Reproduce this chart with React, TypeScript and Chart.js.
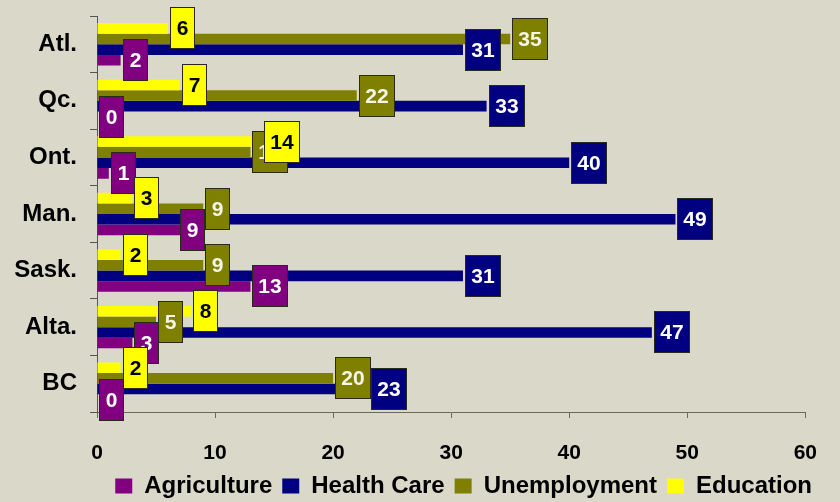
import React, { useEffect, useRef } from "react";
import { Chart, registerables } from "chart.js";

Chart.register(...registerables);

const categories = ["Atl.", "Qc.", "Ont.", "Man.", "Sask.", "Alta.", "BC"];
const agriculture = [2, 0, 1, 9, 13, 3, 0];
const healthCare = [31, 33, 40, 49, 31, 47, 23];
const unemployment = [35, 22, 13, 9, 9, 5, 20];
const education = [6, 7, 14, 3, 2, 8, 2];
const xMin = 0;
const xMax = 60;
const xStep = 10;

const FONT = '"Liberation Sans", Arial, sans-serif';

const bgPlugin = {
  id: "bgFill",
  beforeDraw(chart: any) {
    const { ctx, width, height } = chart;
    ctx.save();
    ctx.fillStyle = "#dad8c9";
    ctx.fillRect(0, 0, width, height);
    ctx.restore();
  },
};

const labelPlugin = {
  id: "boxLabels",
  afterDatasetsDraw(chart: any) {
    const ctx = chart.ctx;
    const n = chart.data.datasets.length;
    ctx.save();
    ctx.font = `bold 21px ${FONT}`;
    ctx.textAlign = "center";
    ctx.textBaseline = "middle";
    const boxOf = (di: number, i: number) => {
      const ds = chart.data.datasets[di];
      const el: any = chart.getDatasetMeta(di).data[i];
      const text = String(ds.data[i]);
      const w = Math.round(ctx.measureText(text).width + 13);
      const h = 42;
      return { left: Math.round(el.x + 2), top: Math.round(el.y - h / 2), w, h, text, x: el.x };
    };
    // draw order: last dataset (Agriculture) first, Education last
    for (let di = n - 1; di >= 0; di--) {
      const ds = chart.data.datasets[di];
      const meta = chart.getDatasetMeta(di);
      meta.data.forEach((_el: any, i: number) => {
        const b = boxOf(di, i);
        // avoid collision of the bottom series label with the label two series above it
        if (di === n - 1 && n >= 3) {
          const o = boxOf(n - 3, i);
          const overlap = Math.min(b.left + b.w, o.left + o.w) - Math.max(b.left, o.left);
          if (overlap > 3) b.left = Math.round(o.left - b.w);
        }
        ctx.fillStyle = ds.backgroundColor;
        ctx.fillRect(b.left, b.top, b.w, b.h);
        ctx.lineWidth = 1;
        ctx.strokeStyle = "#2a2a1a";
        ctx.strokeRect(b.left + 0.5, b.top + 0.5, b.w - 1, b.h - 1);
        ctx.fillStyle = ds.labelColor;
        ctx.fillText(b.text, b.left + b.w / 2, b.top + b.h / 2 + 1);
      });
    }
    ctx.restore();
  },
};

export default function App() {
  const ref = useRef<HTMLCanvasElement | null>(null);
  useEffect(() => {
    document.body.style.margin = "0";
    const canvas = ref.current!;
    const chart = new Chart(canvas, {
      type: "bar",
      data: {
        labels: categories,
        datasets: [
          { label: "Education", data: education, backgroundColor: "#ffff00", labelColor: "#000000", borderWidth: 0 } as any,
          { label: "Unemployment", data: unemployment, backgroundColor: "#808000", labelColor: "#f4f4e8", borderWidth: 0 } as any,
          { label: "Health Care", data: healthCare, backgroundColor: "#000080", labelColor: "#ffffff", borderWidth: 0 } as any,
          { label: "Agriculture", data: agriculture, backgroundColor: "#800080", labelColor: "#ffffff", borderWidth: 0 } as any,
        ],
      },
      options: {
        indexAxis: "y",
        responsive: false,
        animation: false,
        layout: { padding: { top: 16, right: 18, left: 0, bottom: 0 } },
        datasets: { bar: { categoryPercentage: 0.75, barPercentage: 1 } },
        scales: {
          x: {
            min: xMin,
            max: xMax,
            ticks: { stepSize: xStep, color: "#000", font: { family: FONT, size: 21, weight: "bold" }, padding: 23 },
            grid: { drawOnChartArea: false, drawTicks: true, tickLength: 6, color: "#6a6a5e" },
            border: { display: true, color: "#6a6a5e", width: 1 },
            afterFit(scale: any) {
              scale.height = 52;
            },
          },
          y: {
            ticks: { color: "#000", font: { family: FONT, size: 24, weight: "bold" }, padding: 13 },
            grid: { drawOnChartArea: false, drawTicks: true, tickLength: 7, color: "#555", offset: true },
            border: { display: true, color: "#555", width: 1 },
            afterFit(scale: any) {
              scale.width = 97;
              scale.paddingTop = 0;
              scale.paddingBottom = 0;
            },
          },
        },
        plugins: {
          legend: {
            position: "bottom",
            align: "end",
            reverse: true,
            maxHeight: 38,
            labels: {
              boxWidth: 17,
              boxHeight: 15,
              padding: 10,
              color: "#000",
              font: { family: FONT, size: 24, weight: "bold" },
            },
          },
          tooltip: { enabled: false },
        },
      } as any,
      plugins: [bgPlugin, labelPlugin],
    });
    return () => chart.destroy();
  }, []);
  return <canvas ref={ref} width={840} height={502} style={{ display: "block", width: 840, height: 502 }} />;
}
